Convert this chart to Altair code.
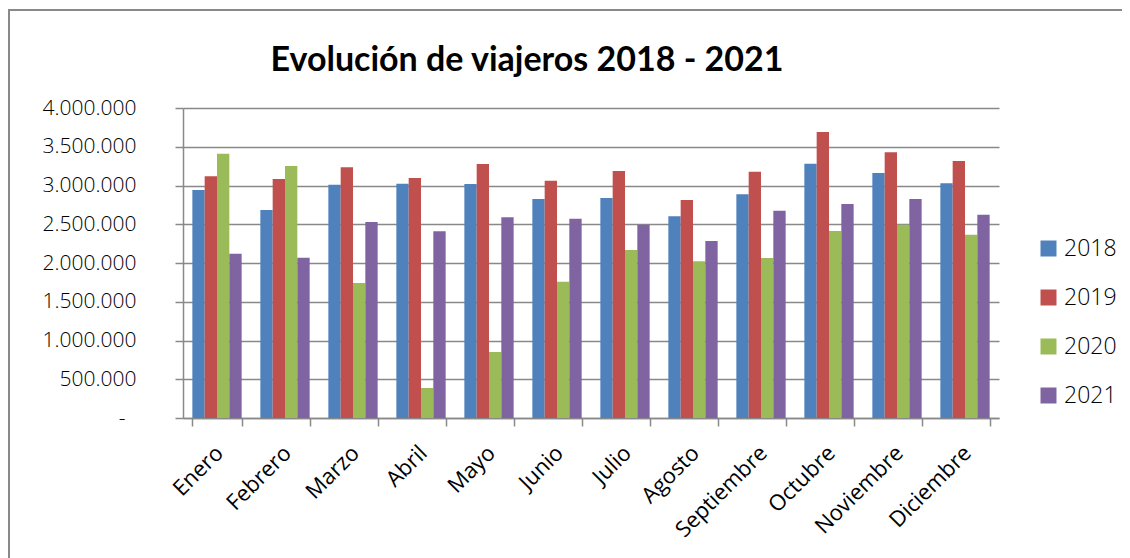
import altair as alt
import pandas as pd

months = ["Enero", "Febrero", "Marzo", "Abril", "Mayo", "Junio", "Julio",
          "Agosto", "Septiembre", "Octubre", "Noviembre", "Diciembre"]
years = ["2018", "2019", "2020", "2021"]
v2018 = [2942000, 2684000, 3011000, 3024000, 3019000, 2826000, 2839000, 2602000, 2886000, 3282000, 3161000, 3028000]
v2019 = [3118000, 3084000, 3234000, 3097000, 3277000, 3062000, 3187000, 2813000, 3178000, 3690000, 3428000, 3316000]
v2020 = [3411000, 3252000, 1742000, 387000, 852000, 1759000, 2168000, 2022000, 2065000, 2413000, 2495000, 2366000]
v2021 = [2120000, 2069000, 2529000, 2409000, 2589000, 2572000, 2495000, 2284000, 2675000, 2761000, 2826000, 2624000]
y_ticks = [0, 500000, 1000000, 1500000, 2000000, 2500000, 3000000, 3500000, 4000000]
y_tick_labels = ["-", "500.000", "1.000.000", "1.500.000", "2.000.000",
                 "2.500.000", "3.000.000", "3.500.000", "4.000.000"]
colors = ["#4F81BD", "#C0504D", "#9BBB59", "#8064A2"]

rows = []
for yr, vals in zip(years, [v2018, v2019, v2020, v2021]):
    for m, v in zip(months, vals):
        rows.append({"Mes": m, "Año": yr, "Viajeros": v})
df = pd.DataFrame(rows)

label_array = "[" + ",".join("'" + s + "'" for s in y_tick_labels) + "]"

GRAY = "#898989"
FONT = "Open Sans"

bars = alt.Chart(df).mark_bar().encode(
    x=alt.X("Mes:N", sort=months, title=None,
            scale=alt.Scale(paddingInner=0.275, paddingOuter=0.1375),
            axis=alt.Axis(labelAngle=-45, labelAlign="right", labelBaseline="top",
                          labelFont=FONT, labelFontSize=22, labelColor="#000000",
                          labelPadding=16, labelOffset=-5, tickSize=8, tickColor=GRAY,
                          tickWidth=1.5, tickBand="extent", domainColor=GRAY,
                          domainWidth=1.5, grid=False)),
    xOffset=alt.XOffset("Año:N", sort=years, scale=alt.Scale(paddingInner=0, paddingOuter=0)),
    y=alt.Y("Viajeros:Q", title=None,
            scale=alt.Scale(domain=[0, 4000000], nice=False),
            axis=alt.Axis(values=y_ticks,
                          labelExpr=label_array + "[round(datum.value/500000)]",
                          labelFont=FONT, labelFontSize=21, labelFontWeight=300,
                          labelColor="#000000",
                          labelPadding={"condition": {"test": "datum.value === 0", "value": 50},
                                        "value": 39},
                          tickSize=8, tickColor=GRAY, tickWidth=1.5,
                          domainColor=GRAY, domainWidth=1.5,
                          grid=True, gridColor=GRAY, gridWidth=1.5)),
    color=alt.Color("Año:N", sort=years, title=None,
                    scale=alt.Scale(domain=years, range=colors),
                    legend=alt.Legend(orient="none", legendX=854, legendY=129,
                                      symbolType="square", symbolSize=256,
                                      symbolStrokeWidth=0, labelFont=FONT,
                                      labelFontSize=23, labelFontWeight=300,
                                      labelColor="#000000",
                                      labelOffset=4, rowPadding=25, padding=0)),
)

frame = alt.Data(values=[{"k": 1}])
top_line = alt.Chart(frame).mark_rule(color=GRAY, strokeWidth=2).encode(
    x=alt.value(-175), x2=alt.value(945), y=alt.value(-98))
left_line = alt.Chart(frame).mark_rule(color=GRAY, strokeWidth=2).encode(
    x=alt.value(-174), y=alt.value(-99), y2=alt.value(450))

chart = alt.layer(bars, top_line, left_line).properties(
    width=816, height=310,
    autosize=alt.AutoSizeParams(type="none"),
    padding={"left": 175, "top": 100, "right": 123, "bottom": 140},
    title=alt.Title("Evolución de viajeros 2018 - 2021", font="Lato", fontSize=34,
                    fontWeight="bold", color="#000000", anchor="middle", frame="group",
                    dx=-64, baseline="alphabetic", offset=-97),
).configure_view(stroke=None)

chart.save("out.html", embed_options={"renderer": "svg", "actions": False})
